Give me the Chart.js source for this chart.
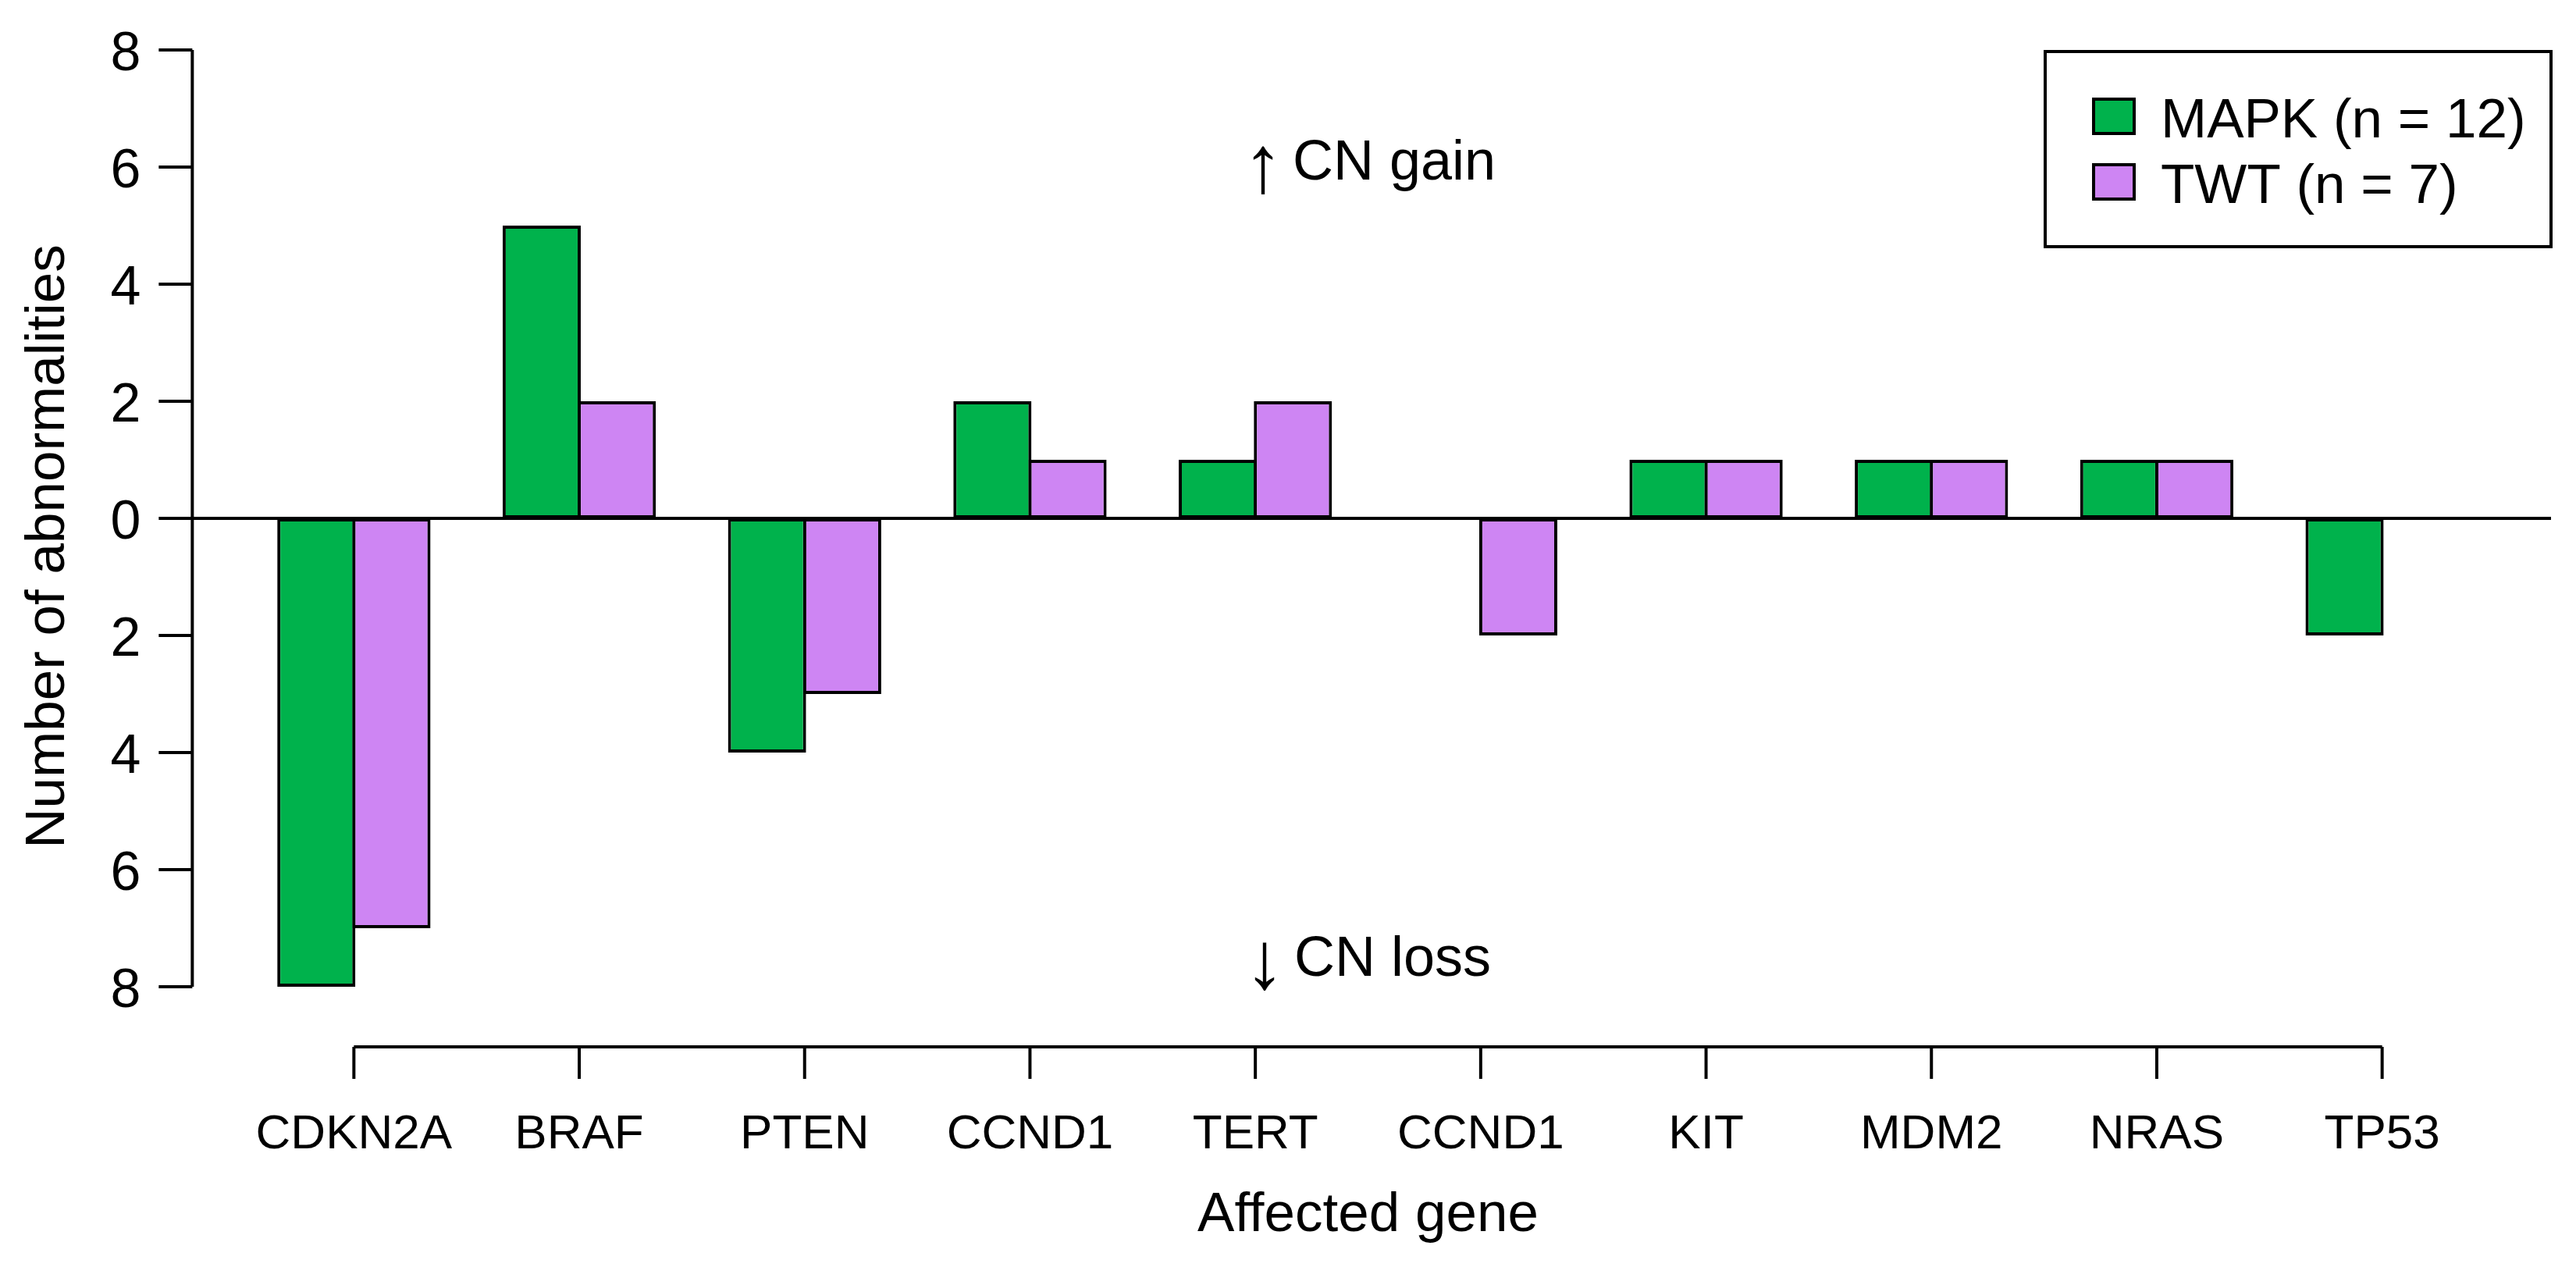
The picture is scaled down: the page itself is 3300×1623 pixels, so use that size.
<!DOCTYPE html>
<html>
<head>
<meta charset="utf-8">
<script src="https://cdn.jsdelivr.net/npm/chart.js@4"></script>
<style>
  html, body { margin: 0; padding: 0; background: #ffffff; }
  #wrap { width: 3300px; height: 1623px; }
  canvas { display: block; }
</style>
</head>
<body>
<div id="wrap"><canvas id="c" width="3300" height="1623"></canvas></div>
<script>
// ---- data ----
const genes = ["CDKN2A", "BRAF", "PTEN", "CCND1", "TERT", "CCND1", "KIT", "MDM2", "NRAS", "TP53"];
const mapkValues = [-8, 5, -4, 2, 1, 0, 1, 1, 1, -2];
const twtValues  = [-7, 2, -3, 1, 2, -2, 1, 1, 1, 0];
const seriesLabels = ["MAPK (n = 12)", "TWT (n = 7)"];
const seriesColors = ["#00B24C", "#CE85F3"];
const yTickValues = [8, 6, 4, 2, 0, -2, -4, -6, -8];
const xTitle = "Affected gene";
const yTitle = "Number of abnormalities";
const gainArrow = "\u2191", gainText = "CN gain";
const lossArrow = "\u2193", lossText = "CN loss";

const FONT = '"Liberation Sans", Arial, Helvetica, sans-serif';

const rAxes = {
  id: 'rAxes',
  afterDatasetsDraw(chart) {
    const ctx = chart.ctx;
    const xs = chart.scales.x, ys = chart.scales.y;
    const x0 = xs.getPixelForValue(0);
    const xN = xs.getPixelForValue(genes.length - 1);
    const axisX = x0 - 207;
    const plotRight = 3268;
    ctx.save();
    ctx.strokeStyle = '#000';
    ctx.fillStyle = '#000';
    ctx.lineCap = 'butt';

    // zero line
    ctx.lineWidth = 4;
    const yz = ys.getPixelForValue(0);
    ctx.beginPath(); ctx.moveTo(axisX, yz); ctx.lineTo(plotRight, yz); ctx.stroke();

    // y axis
    const yTop = ys.getPixelForValue(yTickValues[0]);
    const yBot = ys.getPixelForValue(yTickValues[yTickValues.length - 1]);
    ctx.beginPath(); ctx.moveTo(axisX, yTop); ctx.lineTo(axisX, yBot); ctx.stroke();
    ctx.font = '70px ' + FONT;
    ctx.textAlign = 'right';
    ctx.textBaseline = 'alphabetic';
    yTickValues.forEach(v => {
      const py = ys.getPixelForValue(v);
      ctx.beginPath(); ctx.moveTo(axisX - 43, py); ctx.lineTo(axisX, py); ctx.stroke();
      ctx.fillText(String(Math.abs(v)), axisX - 66, py + 26);
    });

    // x axis
    const axY = 1341;
    ctx.beginPath(); ctx.moveTo(x0, axY); ctx.lineTo(xN, axY); ctx.stroke();
    ctx.font = '62px ' + FONT;
    ctx.textAlign = 'center';
    genes.forEach((g, i) => {
      const px = xs.getPixelForValue(i);
      ctx.beginPath(); ctx.moveTo(px, axY); ctx.lineTo(px, axY + 41); ctx.stroke();
      ctx.fillText(g, px, 1471);
    });

    // axis titles
    ctx.font = '71px ' + FONT;
    ctx.fillText(xTitle, (x0 + xN) / 2, 1577);
    ctx.save();
    ctx.translate(82, 700);
    ctx.rotate(-Math.PI / 2);
    ctx.textAlign = 'center';
    ctx.fillText(yTitle, 0, 0);
    ctx.restore();

    // annotations
    ctx.textAlign = 'left';
    const annX = 1614;
    ctx.font = '104px ' + FONT;
    ctx.fillText(gainArrow, annX - 22, 230 + 16);
    ctx.fillText(lossArrow, annX - 20, 1250 + 16);
    ctx.font = '72px ' + FONT;
    ctx.fillText(gainText, 1656, 230);
    ctx.fillText(lossText, 1658, 1250);

    // legend
    ctx.lineWidth = 4;
    ctx.strokeRect(2620, 66, 3268 - 2620, 316 - 66);
    ctx.font = '71px ' + FONT;
    ctx.textAlign = 'left';
    const rows = [127, 211];
    seriesLabels.forEach((lab, i) => {
      ctx.fillStyle = seriesColors[i];
      ctx.fillRect(2682, rows[i], 52, 44);
      ctx.strokeRect(2682, rows[i], 52, 44);
      ctx.fillStyle = '#000';
      ctx.fillText(lab, 2768, rows[i] + 49);
    });
    ctx.restore();
  }
};

new Chart(document.getElementById('c'), {
  type: 'bar',
  data: {
    labels: genes,
    datasets: [
      { label: seriesLabels[0], data: mapkValues, backgroundColor: seriesColors[0],
        borderColor: '#000', borderWidth: 4, borderSkipped: false },
      { label: seriesLabels[1], data: twtValues, backgroundColor: seriesColors[1],
        borderColor: '#000', borderWidth: 4, borderSkipped: false }
    ]
  },
  options: {
    responsive: false,
    devicePixelRatio: 1,
    animation: false,
    events: [],
    layout: { padding: { left: 309, right: 104, top: 64, bottom: 359 } },
    datasets: { bar: { categoryPercentage: 2 / 3, barPercentage: 1.04, grouped: true } },
    plugins: { legend: { display: false }, tooltip: { enabled: false }, title: { display: false } },
    scales: {
      x: { display: false, offset: true },
      y: { display: false, min: -8, max: 8 }
    }
  },
  plugins: [rAxes]
});
</script>
</body>
</html>
